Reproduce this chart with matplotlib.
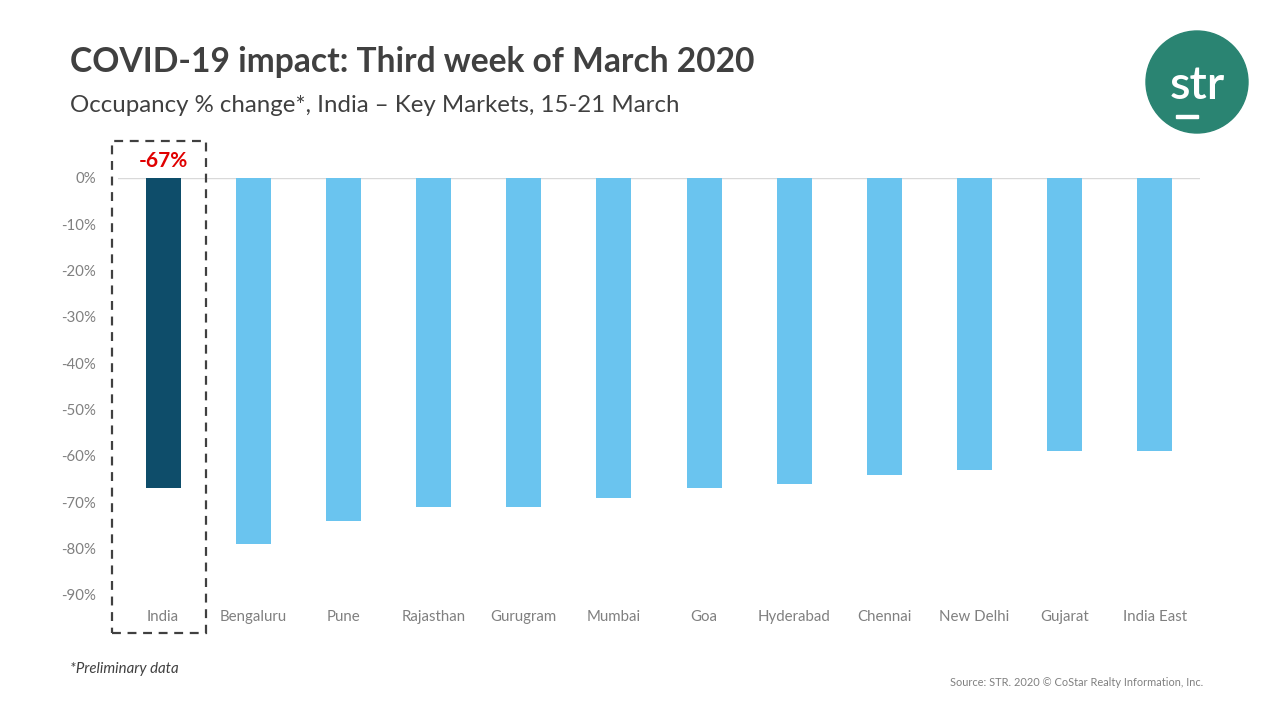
import matplotlib
matplotlib.use("Agg")
import matplotlib.pyplot as plt
from matplotlib.patches import Rectangle, Circle
from matplotlib.transforms import IdentityTransform

plt.rcParams['font.family'] = ['Lato', 'DejaVu Sans']

# Daten
maerkte = ["India", "Bengaluru", "Pune", "Rajasthan", "Gurugram", "Mumbai",
           "Goa", "Hyderabad", "Chennai", "New Delhi", "Gujarat", "India East"]
veraenderung = [-67, -79, -74, -71, -71, -69, -67, -66, -64, -63, -59, -59]
y_ticks = [0, -10, -20, -30, -40, -50, -60, -70, -80, -90]

W, H = 1280, 720
fig = plt.figure(figsize=(12.8, 7.2), dpi=100)
px = IdentityTransform()  # Pixel, Ursprung unten links

# Achsen in Pixelkoordinaten platzieren
ax_l, ax_r, ax_t, ax_b = 118, 1200, 178, 595
ax = fig.add_axes([ax_l / W, 1 - ax_b / H, (ax_r - ax_l) / W, (ax_b - ax_t) / H])

farben = ["#0e4d6a"] + ["#6ac4ef"] * (len(maerkte) - 1)
x = list(range(len(maerkte)))
ax.bar(x, veraenderung, width=0.39, color=farben, zorder=2)
ax.axhline(0, color="#d9d9d9", lw=1, zorder=1)

ax.set_xlim(-0.5, len(maerkte) - 0.5)
ax.set_ylim(-90, 0)
ax.set_yticks(y_ticks)
ax.set_yticklabels([f"{t}%" for t in y_ticks])
ax.set_xticks(x)
ax.set_xticklabels(maerkte)
ax.tick_params(axis="both", length=0, labelsize=10.8, labelcolor="#808080")
ax.tick_params(axis="x", pad=11)
ax.tick_params(axis="y", pad=16)
for s in ax.spines.values():
    s.set_visible(False)

# Beschriftung India
ax.annotate(f"{veraenderung[0]}%", (0, 0), xytext=(0, 5), textcoords="offset points",
            ha="center", va="bottom", color="#e00000", fontsize=15, fontweight="bold")

# gestrichelter Rahmen um India
fig.patches.append(Rectangle((112, H - 633), 94, 492, transform=px,
                             fill=False, ls=(0, (4, 3)), lw=1.6, edgecolor="#404040"))

# Titel
fig.text(70 / W, 1 - 62 / H, "COVID-19 impact: Third week of March 2020", fontsize=24.2,
         fontweight="bold", color="#404040", va="center")
fig.text(70 / W, 1 - 106 / H, "Occupancy % change*, India \u2013 Key Markets, 15-21 March",
         fontsize=17.3, color="#404040", va="center")

# Fussnoten
fig.text(70 / W, 1 - 669 / H, "*Preliminary data", fontsize=10.8, style="italic",
         color="#404040", va="center")
fig.text(1203 / W, 1 - 683 / H, "Source: STR. 2020 \u00a9 CoStar Realty Information, Inc.",
         fontsize=7.9, color="#808080", ha="right", va="center")

# Logo
fig.patches.append(Circle((1197, H - 82), 51, transform=px, color="#2a8472"))
fig.text(1197 / W, 1 - 86 / H, "str", fontsize=34, fontweight="semibold", color="white",
         ha="center", va="center")
fig.patches.append(Rectangle((1176, H - 118), 22, 3, transform=px, color="white"))

fig.savefig("out.png", dpi=100)
